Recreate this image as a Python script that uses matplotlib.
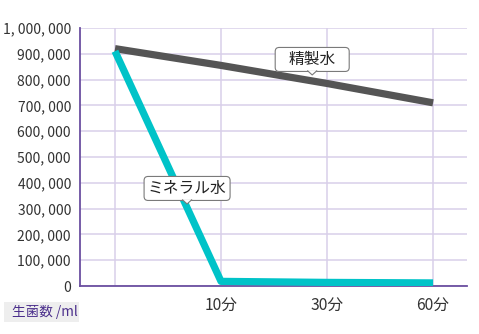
import matplotlib
matplotlib.use('Agg')
from matplotlib import pyplot as plt
from matplotlib.ticker import FuncFormatter
from matplotlib.patches import FancyBboxPatch, Rectangle
import numpy as np

plt.rcParams['font.family'] = ['Noto Sans CJK JP', 'DejaVu Sans']

########
# DATA #
########

time_labels = ['', '10分', '30分', '60分']
purified = [920000, 855000, 785000, 710000]     # 精製水
mineral = [910000, 18000, 14000, 12000]         # ミネラル水

x = np.arange(len(time_labels))

grid_col = '#d8cfea'
spine_col = '#6b4fa0'

fig = plt.figure(figsize=(4.79, 3.34), dpi=100)
ax = fig.add_axes([80/479, 48/334, 387/479, 258/334])

ax.plot(x, purified, color='#555555', linewidth=5.2, solid_capstyle='butt', zorder=3)
ax.plot(x, mineral, color='#00c3c8', linewidth=5.2, solid_capstyle='butt', zorder=3)

ax.set_xlim(-0.33, 3.32)
ax.set_ylim(0, 1000000)
ax.set_yticks(np.arange(0, 1000001, 100000))
ax.yaxis.set_major_formatter(FuncFormatter(
    lambda v, p: '{:,}'.format(int(v)).replace(',', ', ')))
ax.set_xticks(x)
ax.set_xticklabels(time_labels)

ax.grid(True, color=grid_col, linewidth=1.1, zorder=0)
ax.set_axisbelow(True)
for s in ['top', 'right']:
    ax.spines[s].set_visible(False)
ax.spines['left'].set_color(spine_col)
ax.spines['bottom'].set_color(spine_col)
ax.spines['left'].set_linewidth(1.3)
ax.spines['bottom'].set_linewidth(1.3)
ax.tick_params(axis='both', length=0, colors='#333333')
ax.tick_params(axis='y', pad=6.5, labelsize=10)
ax.tick_params(axis='x', pad=7.5, labelsize=11.3)


def callout(text, xd, yd, w, h):
    # rounded label box (w x h in pixels) with a small notch, tip at (xd, yd)
    bx, by = ax.transData.transform((xd, yd))
    notch = 3.5
    box = FancyBboxPatch((bx - w / 2, by + notch), w, h,
                         boxstyle='round,pad=0,rounding_size=4',
                         fc='white', ec='#7a7a7a', lw=0.8,
                         transform=None, zorder=5)
    fig.patches.append(box)
    tri_x = [bx - 4.5, bx, bx + 4.5]
    tri_y = [by + notch + 0.6, by, by + notch + 0.6]
    fig.patches.append(plt.Polygon(list(zip(tri_x, tri_y)), closed=True,
                                   fc='white', ec='none', transform=None, zorder=6))
    fig.lines.append(plt.Line2D(tri_x, tri_y, color='#7a7a7a', lw=0.8,
                                transform=None, zorder=7))
    fig.text(bx / fig.bbox.width, (by + notch + h / 2) / fig.bbox.height, text,
             ha='center', va='center', fontsize=11.3, color='#222222', zorder=8)


callout('精製水', 1.86, 818000, 74, 24)
callout('ミネラル水', 0.68, 318000, 86, 24)

fig.patches.append(Rectangle((4, 12), 75, 20, fc='#eeeeee', ec='none',
                             transform=None))
fig.text(12/479, 22/334, '生菌数 /ml', fontsize=9.8, color='#4b2f8c',
         va='center', ha='left')

plt.savefig('out.png', dpi=100)
plt.close()
